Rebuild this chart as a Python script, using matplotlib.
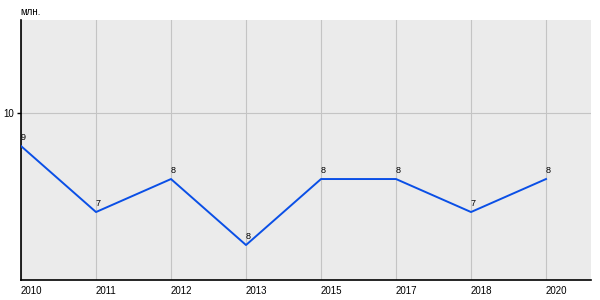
import matplotlib.pyplot as plt

# данные
years = ['2010', '2011', '2012', '2013', '2015', '2017', '2018', '2020']
values = [9, 7, 8, 6, 8, 8, 7, 8]
labels = ['9', '7', '8', '8', '8', '8', '7', '8']

plt.rcParams['font.family'] = ['Liberation Sans', 'DejaVu Sans']

fig = plt.figure(figsize=(6, 3), dpi=100)
ax = fig.add_axes([21/600, 20/300, 570/600, 260/300])
ax.set_facecolor('#EBEBEB')

x = list(range(len(years)))
ax.plot(x, values, color='#0A4FE6', lw=1.4, zorder=3)

for xi, v, t in zip(x, values, labels):
    ax.annotate(t, (xi, v), xytext=(0, 3), textcoords='offset points',
                ha='left', va='bottom', fontsize=6.5, color='black')

ax.set_xlim(0, 7.6)
ax.set_ylim(4.94, 12.82)
ax.set_xticks(x)
ax.set_xticklabels(years, ha='left', fontsize=7)
ax.set_yticks([10])
ax.set_yticklabels(['10'], fontsize=7)
ax.tick_params(axis='x', length=0, pad=4)
ax.tick_params(axis='y', length=3, width=1, pad=2, color='black')
ax.grid(True, color='#C4C4C4', lw=0.8, zorder=0)
ax.set_axisbelow(True)
for s in ['top', 'right']:
    ax.spines[s].set_visible(False)
for s in ['left', 'bottom']:
    ax.spines[s].set_color('black')
    ax.spines[s].set_linewidth(1.2)

fig.text(20/600, 1 - 12/300, 'млн.', fontsize=7, ha='left', va='center')

plt.savefig('out.png', dpi=100)
